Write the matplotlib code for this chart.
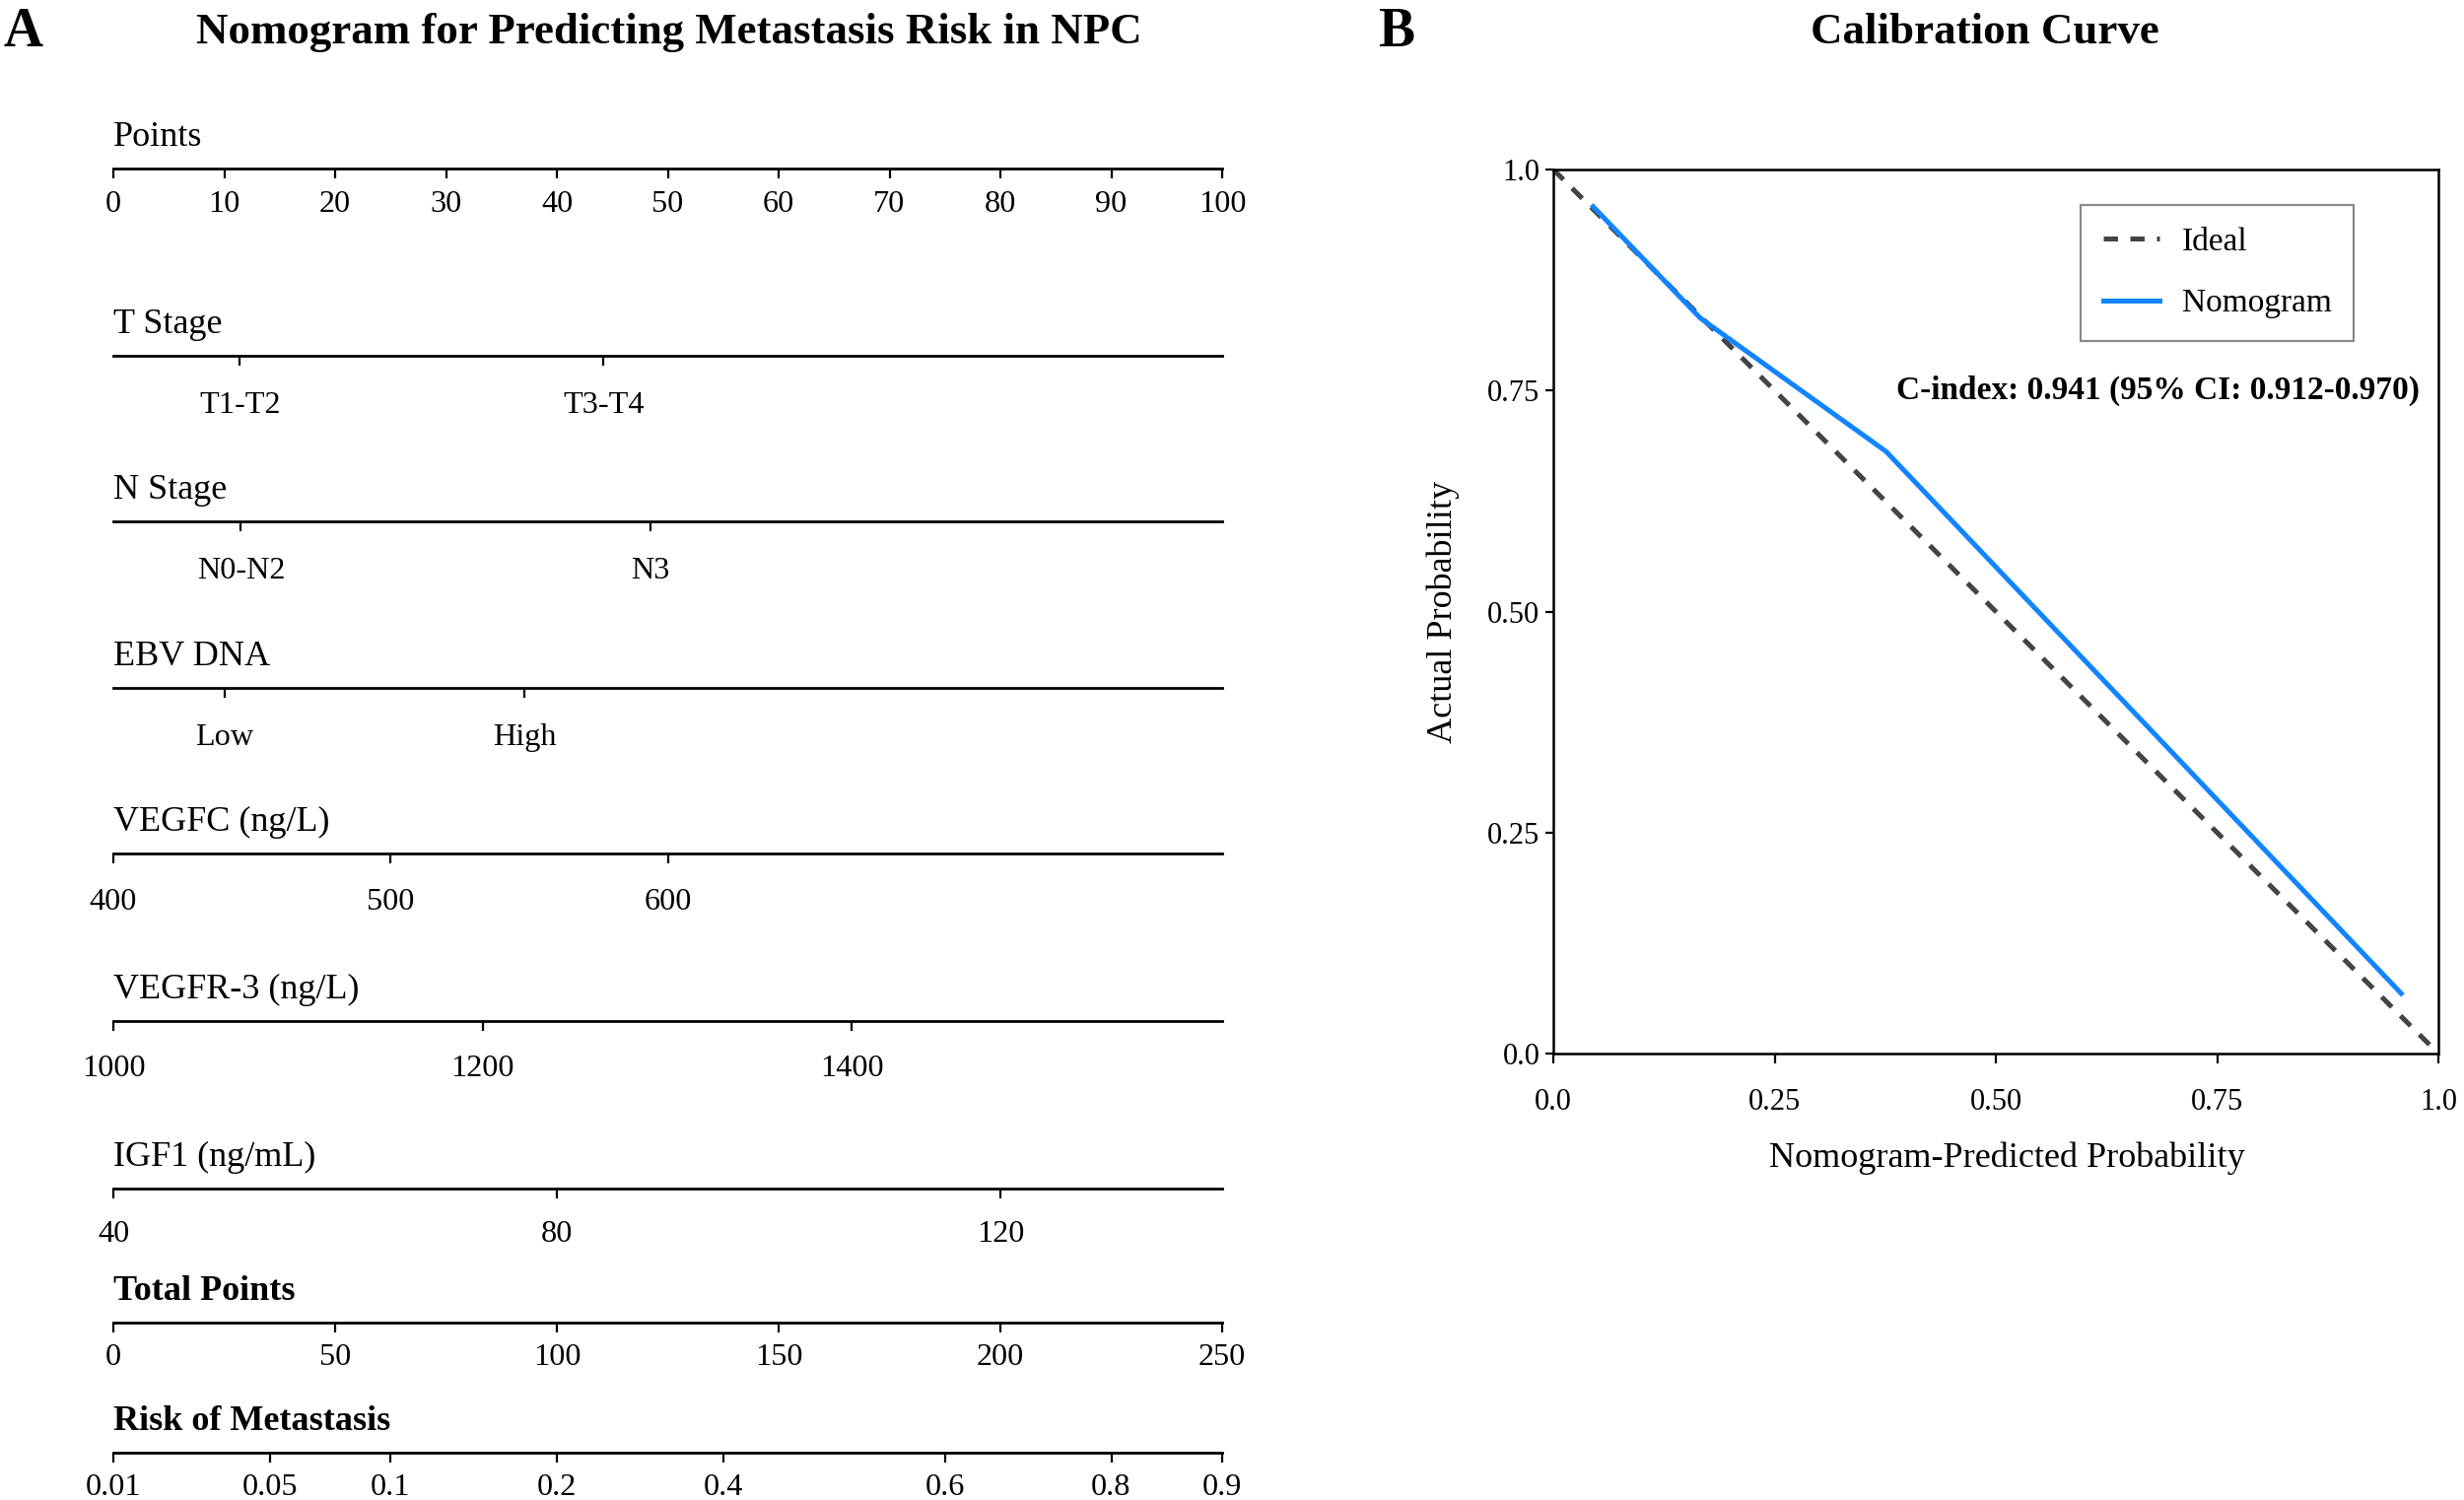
import matplotlib
matplotlib.use("Agg")
import matplotlib.pyplot as plt

plt.rcParams['font.family'] = ['Liberation Serif', 'DejaVu Serif']

# ---------------- data ----------------
points_values = [0, 10, 20, 30, 40, 50, 60, 70, 80, 90, 100]

t_stage_labels = ['T1-T2', 'T3-T4']
t_stage_points = [11.4, 44.2]

n_stage_labels = ['N0-N2', 'N3']
n_stage_points = [11.5, 48.4]

ebv_labels = ['Low', 'High']
ebv_points = [10.0, 37.1]

vegfc_values = [400, 500, 600]
vegfc_points = [0, 25, 50]

vegfr3_values = [1000, 1200, 1400]
vegfr3_points = [0, 33.3, 66.6]

igf1_values = [40, 80, 120]
igf1_points = [0, 40, 80]

total_points_values = [0, 50, 100, 150, 200, 250]

risk_labels = ['0.01', '0.05', '0.1', '0.2', '0.4', '0.6', '0.8', '0.9']
risk_total_points = [0, 35.3, 62.5, 100, 137.5, 187.5, 225, 250]

calib_ticks = [0.0, 0.25, 0.50, 0.75, 1.0]
calib_tick_labels = ['0.0', '0.25', '0.50', '0.75', '1.0']
ideal_x = [0.0, 1.0]
ideal_y = [1.0, 0.0]
nomo_x = [0.045, 0.166, 0.376, 0.958]
nomo_y = [0.958, 0.832, 0.681, 0.068]
cindex_text = 'C-index: 0.941 (95% CI: 0.912-0.970)'

# ---------------- figure ----------------
W, H = 2500, 1522
fig = plt.figure(figsize=(12.5, 7.61), dpi=200)
def fx(px): return px / W
def fy(py): return 1 - py / H

# panel letters and titles
fig.text(fx(4), fy(33), 'A', fontsize=20, fontweight='bold', ha='left', va='center')
fig.text(fx(1398), fy(33), 'B', fontsize=20, fontweight='bold', ha='left', va='center')
fig.text(fx(679), fy(33), 'Nomogram for Predicting Metastasis Risk in NPC',
         fontsize=16.15, fontweight='bold', ha='center', va='center')
fig.text(fx(2014), fy(33), 'Calibration Curve',
         fontsize=16.15, fontweight='bold', ha='center', va='center')

# ---------------- nomogram ----------------
LEFT, RIGHT = 115, 1240
rows = [
    # name, bold, line y(px), xmax, tick positions, tick labels, pad
    ('Points', False, 171, 100, points_values, [str(v) for v in points_values], 4.4),
    ('T Stage', False, 361, 100, t_stage_points, t_stage_labels, 9.4),
    ('N Stage', False, 529, 100, n_stage_points, n_stage_labels, 9.4),
    ('EBV DNA', False, 698, 100, ebv_points, ebv_labels, 9.4),
    ('VEGFC (ng/L)', False, 866, 100, vegfc_points, [str(v) for v in vegfc_values], 9.1),
    ('VEGFR-3 (ng/L)', False, 1036, 100, vegfr3_points, [str(v) for v in vegfr3_values], 8.5),
    ('IGF1 (ng/mL)', False, 1206, 100, igf1_points, [str(v) for v in igf1_values], 8.0),
    ('Total Points', True, 1342, 250, total_points_values, [str(v) for v in total_points_values], 3.8),
    ('Risk of Metastasis', True, 1474, 250, risk_total_points, risk_labels, 4.0),
]

for name, bold, ly, xmax, tpos, tlab, pad in rows:
    ax = fig.add_axes([fx(LEFT), fy(ly), fx(RIGHT - LEFT), 0.0001])
    ax.set_xlim(0, xmax)
    ax.set_ylim(0, 1)
    ax.patch.set_visible(False)
    for s in ['top', 'left', 'right']:
        ax.spines[s].set_visible(False)
    ax.spines['bottom'].set_linewidth(1.0)
    ax.set_yticks([])
    ax.set_xticks(tpos)
    ax.set_xticklabels(tlab)
    ax.tick_params(axis='x', direction='out', length=3.6, width=0.8,
                   labelsize=11.6, pad=pad)
    fig.text(fx(LEFT), fy(ly - 23), name, fontsize=13,
             fontweight='bold' if bold else 'normal', ha='left', va='baseline')

# ---------------- calibration ----------------
cx0, cx1, cy0, cy1 = 1576, 2474, 172, 1069
cax = fig.add_axes([fx(cx0), fy(cy1), fx(cx1 - cx0), (cy1 - cy0) / H])
cax.plot(ideal_x, ideal_y, color='#444444', lw=1.8, dashes=(2.9, 2.5), label='Ideal')
cax.plot(nomo_x, nomo_y, color='#1284FF', lw=1.8, label='Nomogram')
cax.set_xlim(0, 1)
cax.set_ylim(0, 1)
cax.set_xticks(calib_ticks)
cax.set_xticklabels(calib_tick_labels)
cax.set_yticks(calib_ticks)
cax.set_yticklabels(calib_tick_labels)
cax.tick_params(axis='x', direction='out', length=3.5, width=0.8, labelsize=11, pad=9)
cax.tick_params(axis='y', direction='out', length=2.9, width=0.8, labelsize=11, pad=2)
for s in cax.spines.values():
    s.set_linewidth(0.9)
cax.text(0.513, -106 / 897, 'Nomogram-Predicted Probability', fontsize=13,
         ha='center', va='center', transform=cax.transAxes)
cax.text(-112 / 898, 0.5, 'Actual Probability', fontsize=13, rotation=90,
         ha='center', va='center', transform=cax.transAxes)
cax.text(0.979, 0.750, cindex_text, fontsize=12, fontweight='bold',
         ha='right', va='center', transform=cax.transAxes)
leg = cax.legend(loc='upper left', bbox_to_anchor=(0.596, 0.960), borderaxespad=0,
                 fontsize=12, frameon=True, fancybox=False, edgecolor='#8a8a8a',
                 framealpha=1, handlelength=1.7, handletextpad=0.69,
                 labelspacing=0.95, borderpad=0.68)
leg.get_frame().set_linewidth(0.8)

fig.savefig('out.png', dpi=200)
